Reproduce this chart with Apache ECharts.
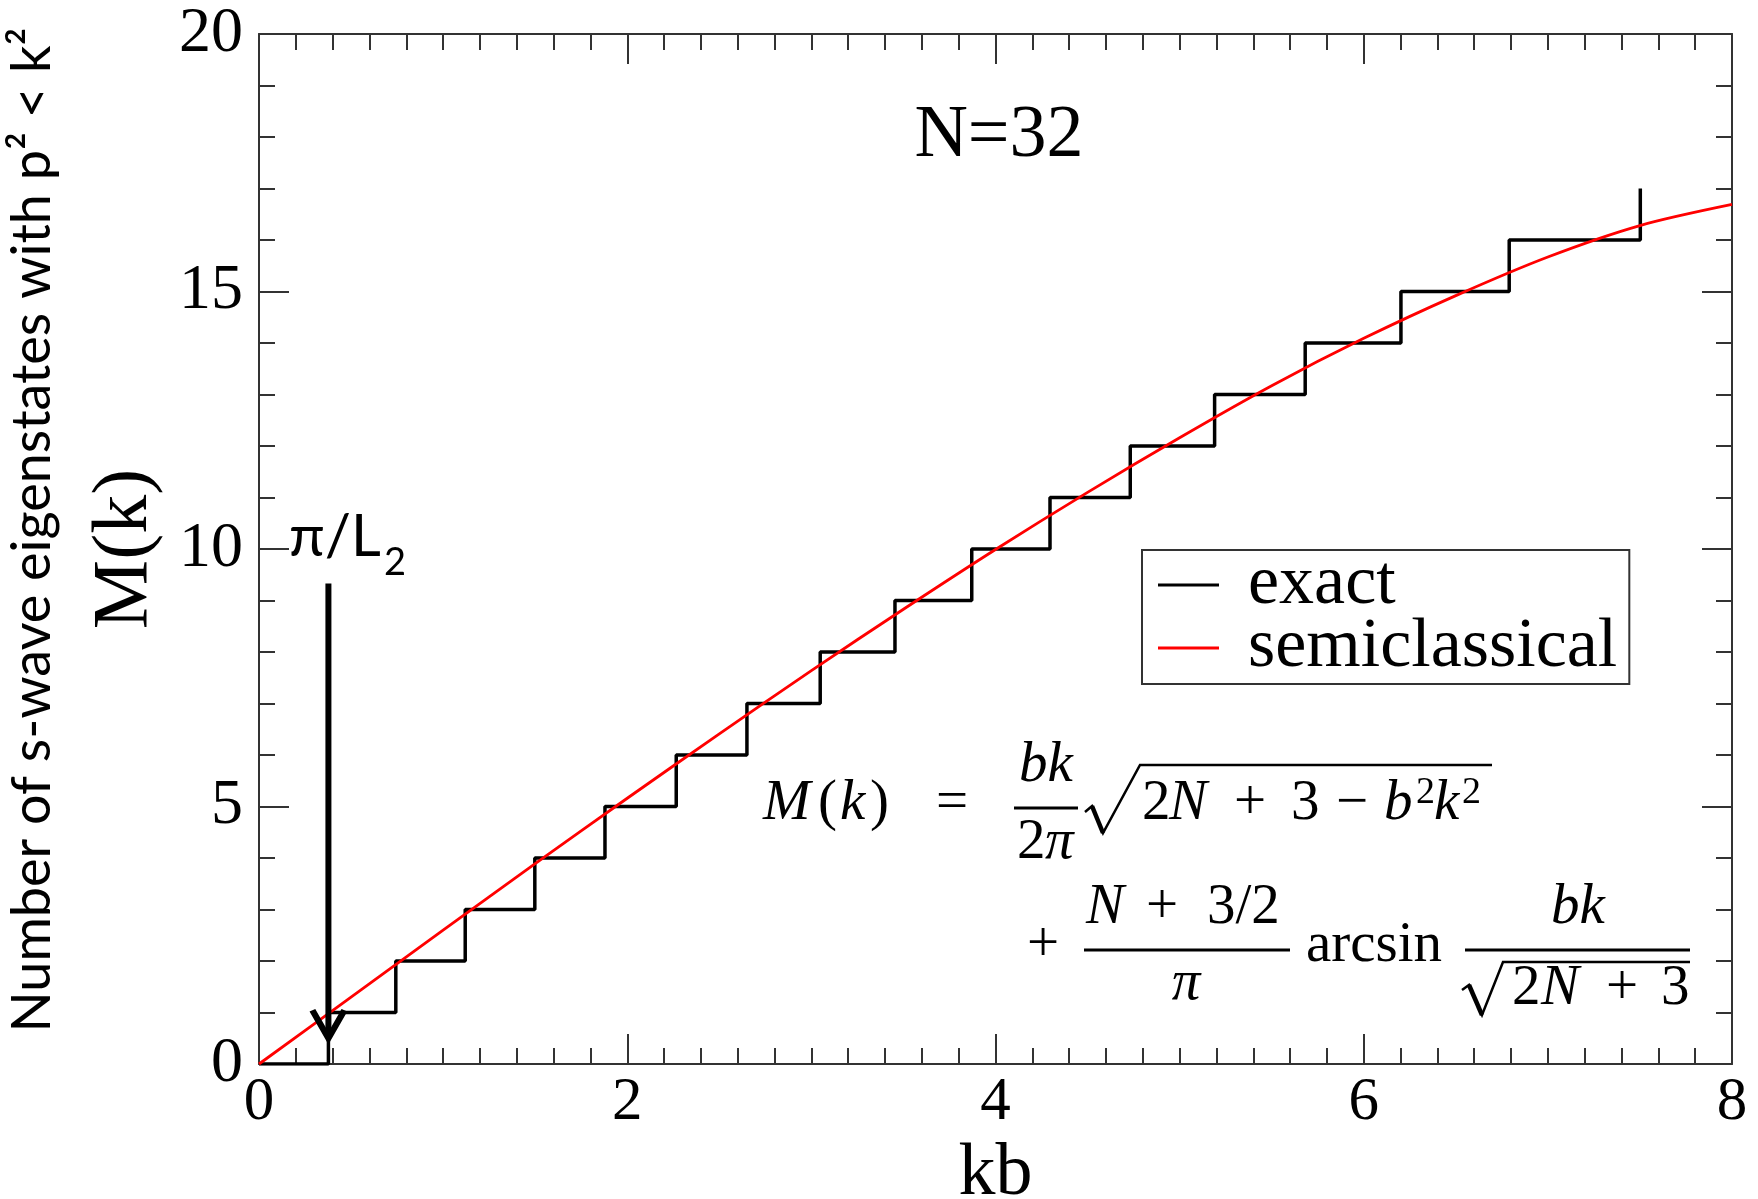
<!DOCTYPE html>
<html>
<head>
<meta charset="utf-8">
<script src="https://cdn.jsdelivr.net/npm/echarts@6/dist/echarts.min.js"></script>
<style>
html,body{margin:0;padding:0;background:#fff;}
#chart{width:1758px;height:1199px;}
</style>
</head>
<body>
<div id="chart"></div>
<script>
// ---- data ----
const xTickLabels = [0, 2, 4, 6, 8];
const yTickLabels = [0, 5, 10, 15, 20];

// exact counting function: kb where M(k) steps up, and the count reached
const exactKb = [0, 0.377, 0.743, 1.12, 1.498, 1.879, 2.266, 2.65, 3.048, 3.454, 3.871, 4.296, 4.732, 5.19, 5.682, 6.202, 6.79, 7.502];
const exactM  = [0, 1, 2, 3, 4, 5, 6, 7, 8, 9, 10, 11, 12, 13, 14, 15, 16, 17];

// semiclassical curve
const semiKb = [0, 0.5, 1, 1.5, 2, 2.5, 3, 3.5, 4, 4.5, 5, 5.5, 6, 6.5, 7, 7.5, 8];
const semiM  = [0, 1.30, 2.60, 3.89, 5.16, 6.41, 7.64, 8.83, 9.99, 11.10, 12.16, 13.17, 14.09, 14.92, 15.67, 16.28, 16.69];

// pi/L2 arrow annotation (start and tip)
const arrowKb = [0.377, 0.377];
const arrowM  = [9.33, 0.5];

const seriesNames = ['exact', 'semiclassical'];
const panelLabel = 'N=32';
const xName = 'kb';
const yName = 'M(k)';
const outerYName = 'Number of s-wave eigenstates with p² < k²';

// ---- chart ----
const SERIF = '"Liberation Serif","Times New Roman",serif';
const SANS = 'Lato,"Open Sans",sans-serif';
const AX = '#333';

function zip(a, b) { return a.map((v, i) => [v, b[i]]); }

function axis(pos, showLabel, ticks, minorSplit) {
  return {
    type: 'value',
    position: pos,
    min: ticks[0],
    max: ticks[ticks.length - 1],
    interval: ticks[1] - ticks[0],
    axisLine: { show: true, onZero: false, lineStyle: { color: AX, width: 2 } },
    axisTick: { show: true, inside: true, length: 30, lineStyle: { color: AX, width: 2 } },
    minorTick: { show: true, splitNumber: minorSplit, length: 16, lineStyle: { color: AX, width: 2 } },
    splitLine: { show: false },
    minorSplitLine: { show: false },
    axisLabel: { show: showLabel, fontFamily: SERIF, color: '#000' }
  };
}

const xBottom = axis('bottom', true, xTickLabels, 10);
xBottom.axisLabel.fontSize = 61;
xBottom.axisLabel.lineHeight = 61;
xBottom.axisLabel.margin = 8;
xBottom.name = xName;
xBottom.nameLocation = 'middle';
xBottom.nameGap = 67;
xBottom.nameTextStyle = { fontFamily: SERIF, fontSize: 74, lineHeight: 74, color: '#000' };
const xTop = axis('top', false, xTickLabels, 10);

const yLeft = axis('left', true, yTickLabels, 5);
yLeft.axisLabel.fontSize = 64;
yLeft.axisLabel.margin = 16;
yLeft.name = yName;
yLeft.nameLocation = 'middle';
yLeft.nameGap = 94;
yLeft.nameTextStyle = { fontFamily: SERIF, fontSize: 78, lineHeight: 78, color: '#000' };
const yRight = axis('right', false, yTickLabels, 5);

// text helpers for annotation / formula (positions are typographic)
const SM = 0.3375; // middle-baseline offset for Liberation Serif
function tok(text, x, base, size, italic, align) {
  return {
    type: 'text', x: x, y: base - SM * size, z: 100,
    style: {
      text: text, fill: '#000',
      font: (italic ? 'italic ' : '') + size + 'px ' + SERIF,
      align: align || 'left', verticalAlign: 'middle'
    }
  };
}
function bar(x1, y, x2, w) {
  return { type: 'line', z: 100, shape: { x1: x1, y1: y, x2: x2, y2: y }, style: { stroke: '#000', lineWidth: w || 3 } };
}
function radical(pts) {
  return [
    { type: 'polyline', z: 100, shape: { points: pts }, style: { stroke: '#000', lineWidth: 2.5, fill: null, lineJoin: 'miter' } },
    { type: 'line', z: 100, shape: { x1: pts[1][0], y1: pts[1][1], x2: pts[2][0], y2: pts[2][1] }, style: { stroke: '#000', lineWidth: 4.5 } }
  ];
}

const F = 57;
const formula = [
  tok('M', 763, 823, F, true), tok('(', 818, 823, F, false), tok('k', 840, 823, F, true), tok(')', 870, 823, F, false),
  tok('=', 952, 823, F, false, 'center'),
  tok('bk', 1046, 785, F, true, 'center'),
  bar(1014, 808, 1078),
  tok('2', 1017, 862, F, false), tok('π', 1045, 862, F, true),
  ...radical([[1085, 812], [1092, 806], [1103, 833], [1140, 765], [1492, 765]]),
  tok('2', 1142, 823, F, false), tok('N', 1169, 823, F, true),
  tok('+', 1250, 823, F, false, 'center'), tok('3', 1291, 823, F, false),
  tok('−', 1352, 823, F, false, 'center'),
  tok('b', 1384, 823, F, true), tok('2', 1416, 806, 38, false),
  tok('k', 1434, 823, F, true), tok('2', 1462, 806, 38, false),

  tok('+', 1043, 965, F, false, 'center'),
  tok('N', 1086, 927, F, true), tok('+', 1162, 927, F, false, 'center'), tok('3/2', 1207, 927, F, false),
  bar(1084, 950, 1290),
  tok('π', 1186, 1003, F, true, 'center'),
  tok('arcsin', 1306, 965, F, false),
  tok('bk', 1578, 927, F, true, 'center'),
  bar(1465, 950, 1690),
  ...radical([[1462, 990], [1469, 985], [1482, 1015], [1503, 962], [1690, 962]]),
  tok('2', 1512, 1008, F, false), tok('N', 1541, 1008, F, true),
  tok('+', 1622, 1008, F, false, 'center'), tok('3', 1661, 1008, F, false)
];

const LM = 0.387; // middle-baseline offset for Lato
const annotations = [
  { type: 'text', x: 999, y: 162 - SM * 74, z: 100,
    style: { text: panelLabel, font: '74px ' + SERIF, fill: '#000', align: 'center', verticalAlign: 'middle' } },
  { type: 'text', x: 289, y: 560 - LM * 58, z: 100,
    style: { text: 'π/L', font: '58px ' + SANS, fill: '#000', align: 'left', verticalAlign: 'middle' } },
  { type: 'text', x: 384, y: 577 - LM * 38, z: 100,
    style: { text: '2', font: '38px ' + SANS, fill: '#000', align: 'left', verticalAlign: 'middle' } },
  { type: 'text', x: 33, y: 530, rotation: Math.PI / 2, z: 100,
    style: { text: outerYName, font: '54px ' + SANS, fill: '#000', align: 'center', verticalAlign: 'middle' } }
];

const chart = echarts.init(document.getElementById('chart'), null, { renderer: 'canvas' });
chart.setOption({
  animation: false,
  backgroundColor: '#fff',
  grid: { left: 259, top: 34, width: 1473, height: 1030, containLabel: false, outerBoundsMode: 'none' },
  xAxis: [xBottom, xTop],
  yAxis: [yLeft, yRight],
  legend: {
    data: seriesNames,
    orient: 'vertical',
    left: 1142, top: 550,
    itemWidth: 61, itemHeight: 3, itemGap: -7,
    icon: 'rect',
    padding: [0, 12, 1, 16],
    borderColor: AX, borderWidth: 2,
    selectedMode: false,
    textStyle: { fontFamily: SERIF, fontSize: 70, color: '#000', padding: [0, 0, 0, 24] }
  },
  series: [
    {
      name: seriesNames[0], type: 'line', step: 'end',
      data: zip(exactKb, exactM),
      showSymbol: false, color: '#000',
      lineStyle: { color: '#000', width: 3.5 },
      z: 2, silent: true
    },
    {
      name: seriesNames[1], type: 'line', smooth: 0.3,
      data: zip(semiKb, semiM),
      showSymbol: false, color: '#ff0000',
      lineStyle: { color: '#ff0000', width: 2.8 },
      z: 3, silent: true
    },
    {
      name: 'arrow', type: 'line',
      data: [
        { value: [arrowKb[0], arrowM[0]], symbol: 'none' },
        { value: [arrowKb[1], arrowM[1]] }
      ],
      showSymbol: true, showAllSymbol: true,
      symbol: 'path://M0,0 L16,28 L32,0',
      symbolSize: [32, 28], symbolOffset: [0, -14],
      itemStyle: { color: 'rgba(0,0,0,0)', borderColor: '#000', borderWidth: 6 },
      lineStyle: { color: '#000', width: 6 },
      z: 4, silent: true
    }
  ],
  graphic: { elements: [...annotations, ...formula] }
});
</script>
</body>
</html>
